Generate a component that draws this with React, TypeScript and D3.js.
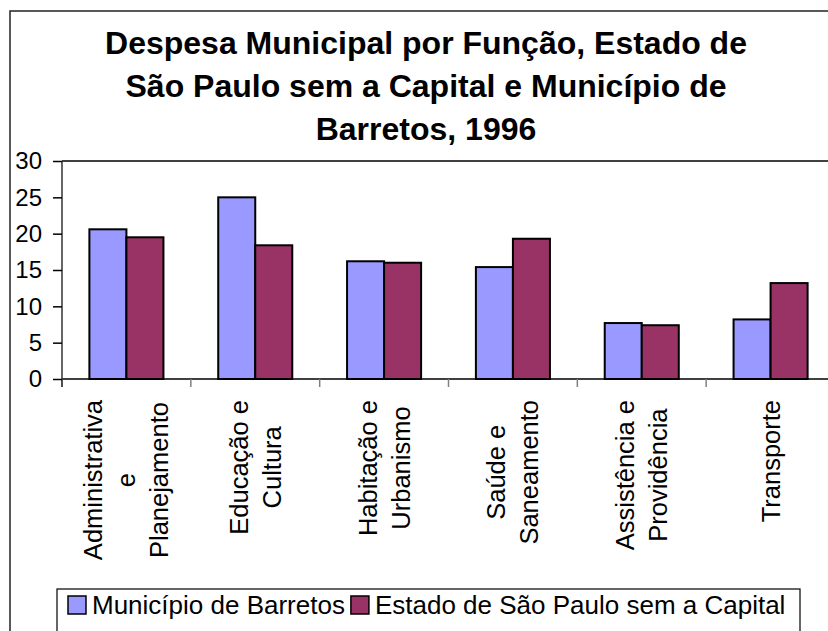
import React, { useEffect, useRef } from 'react';
import * as d3 from 'd3';

const categories: string[][] = [
  ['Administrativa', 'e', 'Planejamento'],
  ['Educação e', 'Cultura'],
  ['Habitação e', 'Urbanismo'],
  ['Saúde e', 'Saneamento'],
  ['Assistência e', 'Providência'],
  ['Transporte'],
];
const barretos = [20.6, 25.0, 16.2, 15.4, 7.7, 8.2];
const estado = [19.5, 18.4, 16.0, 19.3, 7.4, 13.2];
const seriesNames = ['Município de Barretos', 'Estado de São Paulo sem a Capital'];
const seriesColors = ['#9999FF', '#993366'];
const yTicks = [0, 5, 10, 15, 20, 25, 30];
const titleLines = [
  'Despesa Municipal por Função, Estado de',
  'São Paulo sem a Capital e Município de',
  'Barretos, 1996',
];

const App: React.FC = () => {
  const svgRef = useRef<SVGSVGElement>(null);

  useEffect(() => {
    if (!svgRef.current) return;
    const width = 828;
    const height = 631;
    const font = '"Liberation Sans", Arial, sans-serif';
    const plot = { left: 62, right: 835, top: 161, bottom: 379 };

    const svg = d3.select(svgRef.current).attr('width', width).attr('height', height);
    svg.selectAll('*').remove();

    svg.append('rect').attr('width', width).attr('height', height).attr('fill', '#fff');

    // outer chart border (cut off on the right and bottom)
    svg.append('path')
      .attr('d', `M10,${height + 2}V11H${width + 2}`)
      .attr('fill', 'none')
      .attr('stroke', '#222')
      .attr('stroke-width', 1.5);

    // title
    svg.append('g').selectAll('text')
      .data(titleLines)
      .enter().append('text')
      .attr('x', 426)
      .attr('y', (_, i) => 54 + i * 43)
      .attr('text-anchor', 'middle')
      .attr('font-family', font)
      .attr('font-weight', 'bold')
      .attr('font-size', 32)
      .attr('fill', '#000')
      .text(d => d);

    const x0 = d3.scaleBand<number>()
      .domain(d3.range(categories.length))
      .range([plot.left, plot.right])
      .padding(0);
    const x1 = d3.scaleBand<number>()
      .domain([0, 1])
      .range([0, x0.bandwidth()])
      .paddingInner(0)
      .paddingOuter(0.74);
    const y = d3.scaleLinear().domain([0, 30]).range([plot.bottom, plot.top]);

    // plot top border
    svg.append('line')
      .attr('x1', plot.left).attr('x2', plot.right)
      .attr('y1', plot.top).attr('y2', plot.top)
      .attr('stroke', '#000').attr('stroke-width', 1.5);

    // bars
    const series = [barretos, estado];
    series.forEach((vals, s) => {
      svg.append('g').selectAll('rect')
        .data(vals)
        .enter().append('rect')
        .attr('x', (_, i) => (x0(i) as number) + (x1(s) as number))
        .attr('y', d => y(d))
        .attr('width', x1.bandwidth())
        .attr('height', d => y(0) - y(d))
        .attr('fill', seriesColors[s])
        .attr('stroke', '#000')
        .attr('stroke-width', 2);
    });

    // x axis
    svg.append('line')
      .attr('x1', plot.left).attr('x2', plot.right)
      .attr('y1', plot.bottom).attr('y2', plot.bottom)
      .attr('stroke', '#000').attr('stroke-width', 1.5);
    svg.append('g').selectAll('line')
      .data(d3.range(categories.length + 1))
      .enter().append('line')
      .attr('x1', d => plot.left + d * x0.step())
      .attr('x2', d => plot.left + d * x0.step())
      .attr('y1', plot.bottom).attr('y2', plot.bottom + 8)
      .attr('stroke', '#808080').attr('stroke-width', 1.5);

    // y axis
    const yAxis = svg.append('g')
      .attr('transform', `translate(${plot.left},0)`)
      .call(d3.axisLeft(y).tickValues(yTicks).tickSize(9).tickPadding(11).tickSizeOuter(0));
    yAxis.select('.domain').attr('stroke', '#333').attr('stroke-width', 1.5)
      .attr('d', `M0,${plot.top}V${plot.bottom + 8}`);
    yAxis.selectAll('.tick line').attr('stroke', '#000').attr('stroke-width', 1.5);
    yAxis.selectAll('.tick text')
      .attr('font-family', font)
      .attr('font-size', 24)
      .attr('fill', '#000');

    // category labels, rotated
    const labelTop = 400;
    const lineGap = 33;
    categories.forEach((lines, i) => {
      const cx = (x0(i) as number) + x0.bandwidth() / 2;
      const g = svg.append('g');
      const texts = g.selectAll('text')
        .data(lines)
        .enter().append('text')
        .attr('text-anchor', 'middle')
        .attr('dominant-baseline', 'central')
        .attr('font-family', font)
        .attr('font-size', 25.5)
        .attr('fill', '#000')
        .text(d => d);
      let maxLen = 0;
      texts.each(function () {
        maxLen = Math.max(maxLen, (this as SVGTextElement).getComputedTextLength());
      });
      const cy = labelTop + maxLen / 2;
      texts.attr('transform', (_, j) => {
        const lx = cx + (j - (lines.length - 1) / 2) * lineGap;
        return `translate(${lx},${cy}) rotate(-90)`;
      });
    });

    // legend
    const legend = svg.append('g');
    legend.append('rect')
      .attr('x', 57).attr('y', 589)
      .attr('width', 743).attr('height', 60)
      .attr('fill', '#fff')
      .attr('stroke', '#000').attr('stroke-width', 1.2);
    let lx = 68;
    seriesNames.forEach((name, s) => {
      legend.append('rect')
        .attr('x', lx).attr('y', 596)
        .attr('width', 18).attr('height', 18)
        .attr('fill', seriesColors[s])
        .attr('stroke', '#000').attr('stroke-width', 1.5);
      const t = legend.append('text')
        .attr('x', lx + 24).attr('y', 614)
        .attr('font-family', font)
        .attr('font-size', 26)
        .attr('fill', '#000')
        .text(name);
      lx += 24 + (t.node() as SVGTextElement).getComputedTextLength() + 6;
    });
  }, []);

  return (
    <svg ref={svgRef} style={{ position: 'absolute', left: 0, top: 0, display: 'block' }}></svg>
  );
};

export default App;
